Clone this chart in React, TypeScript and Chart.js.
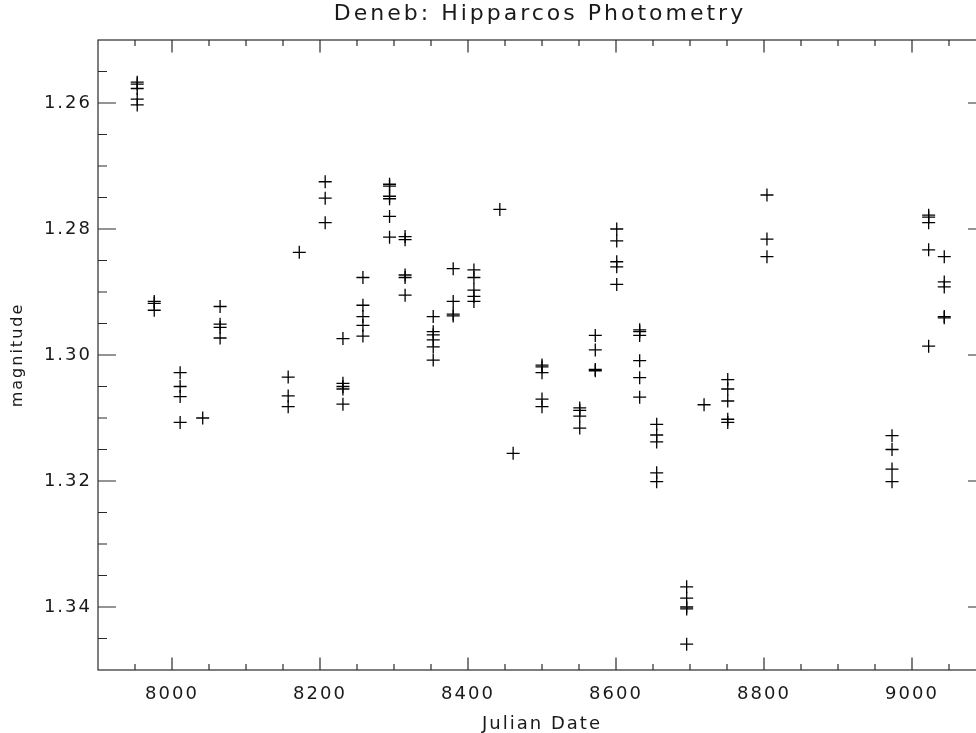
import { useEffect, useRef } from "react";
import { Chart, registerables } from "chart.js";

Chart.register(...registerables);

const chartTitle = "Deneb: Hipparcos Photometry";
const xAxisTitle = "Julian Date";
const yAxisTitle = "magnitude";

const julianDates = [
  7953, 7953, 7953, 7953, 7953,
  7976, 7976, 7976,
  8011, 8011, 8011, 8011,
  8041.5,
  8065, 8065, 8065, 8065,
  8157, 8157, 8157,
  8172,
  8207, 8207, 8207,
  8231, 8231, 8231, 8231, 8231,
  8258, 8258, 8258, 8258, 8258,
  8294, 8294, 8294, 8294, 8294, 8294,
  8315, 8315, 8315, 8315, 8315,
  8353, 8353, 8353, 8353, 8353, 8353,
  8380, 8380, 8380, 8380,
  8408, 8408, 8408, 8408, 8408,
  8443,
  8461,
  8500, 8500, 8500, 8500, 8500,
  8551, 8551, 8551, 8551,
  8572, 8572, 8572, 8572,
  8601, 8601, 8601, 8601, 8601,
  8632, 8632, 8632, 8632, 8632, 8632,
  8655, 8655, 8655, 8655, 8655,
  8695.5, 8695.5, 8695.5, 8695.5, 8695.5,
  8719,
  8751, 8751, 8751, 8751, 8751,
  8804, 8804, 8804,
  8973, 8973, 8973, 8973,
  9022.5, 9022.5, 9022.5, 9022.5, 9022.5,
  9043.6, 9043.6, 9043.6, 9043.6, 9043.6,
];

const magnitudes = [
  1.2567, 1.2570, 1.2577, 1.2594, 1.2603,
  1.2915, 1.2918, 1.2929,
  1.3028, 1.3050, 1.3066, 1.3107,
  1.3100,
  1.2923, 1.2951, 1.2956, 1.2973,
  1.3035, 1.3065, 1.3082,
  1.2837,
  1.2725, 1.2751, 1.2790,
  1.2974, 1.3045, 1.3050, 1.3054, 1.3078,
  1.2877, 1.2921, 1.2939, 1.2953, 1.2970,
  1.2729, 1.2732, 1.2748, 1.2752, 1.2780, 1.2813,
  1.2812, 1.2817, 1.2873, 1.2877, 1.2905,
  1.2939, 1.2963, 1.2968, 1.2976, 1.2987, 1.3008,
  1.2863, 1.2915, 1.2935, 1.2938,
  1.2865, 1.2877, 1.2897, 1.2907, 1.2915,
  1.2769,
  1.3156,
  1.3016, 1.3019, 1.3028, 1.3070, 1.3082,
  1.3084, 1.3088, 1.3097, 1.3116,
  1.2969, 1.2992, 1.3023, 1.3025,
  1.2800, 1.2819, 1.2852, 1.2860, 1.2888,
  1.2960, 1.2963, 1.2969, 1.3009, 1.3036, 1.3067,
  1.3110, 1.3127, 1.3138, 1.3187, 1.3201,
  1.3368, 1.3386, 1.3400, 1.3403, 1.3459,
  1.3079,
  1.3039, 1.3054, 1.3073, 1.3102, 1.3107,
  1.2746, 1.2816, 1.2844,
  1.3128, 1.3150, 1.3181, 1.3201,
  1.2778, 1.2781, 1.2790, 1.2833, 1.2986,
  1.2844, 1.2884, 1.2892, 1.2939, 1.2941,
];

const xMajorTicks = [8000, 8200, 8400, 8600, 8800, 9000];
const xMinorTicks = [
  7950, 8050, 8100, 8150, 8250, 8300, 8350, 8450, 8500, 8550, 8650, 8700,
  8750, 8850, 8900, 8950, 9050,
];
const yMajorTicks = [1.26, 1.28, 1.3, 1.32, 1.34];
const yMinorTicks = [
  1.255, 1.265, 1.27, 1.275, 1.285, 1.29, 1.295, 1.305, 1.31, 1.315, 1.325,
  1.33, 1.335, 1.345,
];

const FONT = "'DejaVu Sans', 'Liberation Sans', sans-serif";
const INK = "#1a1a1a";

const framePlugin = {
  id: "idlFrame",
  beforeDraw(chart: any) {
    chart.ctx.letterSpacing = "2px";
  },
  afterDraw(chart: any) {
    const { ctx, chartArea, scales } = chart;
    const { left, right, top, bottom } = chartArea;
    const x = scales.x;
    const y = scales.y;
    ctx.save();
    ctx.letterSpacing = "0px";
    ctx.strokeStyle = "#2a2a2a";
    ctx.lineWidth = 1.2;
    ctx.strokeRect(left, top, right - left, bottom - top);
    ctx.beginPath();
    const xt = (vals: number[], len: number) => {
      vals.forEach((v) => {
        const px = x.getPixelForValue(v);
        ctx.moveTo(px, bottom);
        ctx.lineTo(px, bottom - len);
        ctx.moveTo(px, top);
        ctx.lineTo(px, top + len);
      });
    };
    const yt = (vals: number[], len: number) => {
      vals.forEach((v) => {
        const py = y.getPixelForValue(v);
        ctx.moveTo(left, py);
        ctx.lineTo(left + len, py);
        ctx.moveTo(right, py);
        ctx.lineTo(right - len, py);
      });
    };
    xt(xMajorTicks, 12.5);
    xt(xMinorTicks, 6);
    yt(yMajorTicks, 18);
    yt(yMinorTicks, 9);
    ctx.stroke();

    ctx.letterSpacing = "3px";
    ctx.font = `22px ${FONT}`;
    ctx.fillStyle = INK;
    ctx.textAlign = "center";
    ctx.textBaseline = "alphabetic";
    ctx.fillText(chartTitle, 540, 20);
    ctx.restore();
  },
};

export default function App() {
  const canvasRef = useRef<HTMLCanvasElement | null>(null);

  useEffect(() => {
    if (!canvasRef.current) return;
    const points = julianDates.map((d, i) => ({ x: d, y: magnitudes[i] }));
    const chart = new Chart(canvasRef.current, {
      type: "scatter",
      data: {
        datasets: [
          {
            data: points,
            pointStyle: "cross",
            pointRadius: 6.5,
            pointHoverRadius: 6.5,
            borderColor: "#000",
            backgroundColor: "#000",
            borderWidth: 1.3,
            pointBorderWidth: 1.3,
          },
        ],
      },
      options: {
        animation: false,
        responsive: false,
        maintainAspectRatio: false,
        events: [],
        layout: { padding: { top: 40, left: 0, right: 14, bottom: 0 } },
        plugins: {
          legend: { display: false },
          tooltip: { enabled: false },
          title: { display: false },
        },
        scales: {
          x: {
            type: "linear",
            min: 7900,
            max: 9100,
            grid: { display: false, drawTicks: false },
            border: { display: false },
            afterFit: (s: any) => {
              s.height = 63;
            },
            afterBuildTicks: (s: any) => {
              s.ticks = xMajorTicks.map((v) => ({ value: v }));
            },
            ticks: {
              padding: 14,
              maxRotation: 0,
              autoSkip: false,
              color: INK,
              font: { family: FONT, size: 18 },
              callback: (v: any) => String(v),
            },
            title: {
              display: true,
              text: xAxisTitle,
              color: INK,
              font: { family: FONT, size: 18, lineHeight: 1 },
              padding: { top: 0, bottom: 0 },
            },
          },
          y: {
            type: "linear",
            min: 1.25,
            max: 1.35,
            reverse: true,
            grid: { display: false, drawTicks: false },
            border: { display: false },
            afterFit: (s: any) => {
              s.width = 98;
            },
            afterBuildTicks: (s: any) => {
              s.ticks = yMajorTicks.map((v) => ({ value: v }));
            },
            ticks: {
              padding: 6,
              autoSkip: false,
              color: INK,
              font: { family: FONT, size: 18 },
              callback: (v: any) => Number(v).toFixed(2),
            },
            title: {
              display: true,
              text: yAxisTitle,
              color: INK,
              font: { family: FONT, size: 16, lineHeight: 1 },
              padding: { top: 10, bottom: 0 },
            },
          },
        },
      },
      plugins: [framePlugin],
    });
    return () => chart.destroy();
  }, []);

  return (
    <div
      style={{
        position: "fixed",
        left: 0,
        top: 0,
        width: 976,
        height: 733,
        overflow: "hidden",
        background: "#fff",
      }}
    >
      <canvas
        ref={canvasRef}
        width={1000}
        height={733}
        style={{ width: 1000, height: 733, display: "block" }}
      />
    </div>
  );
}
